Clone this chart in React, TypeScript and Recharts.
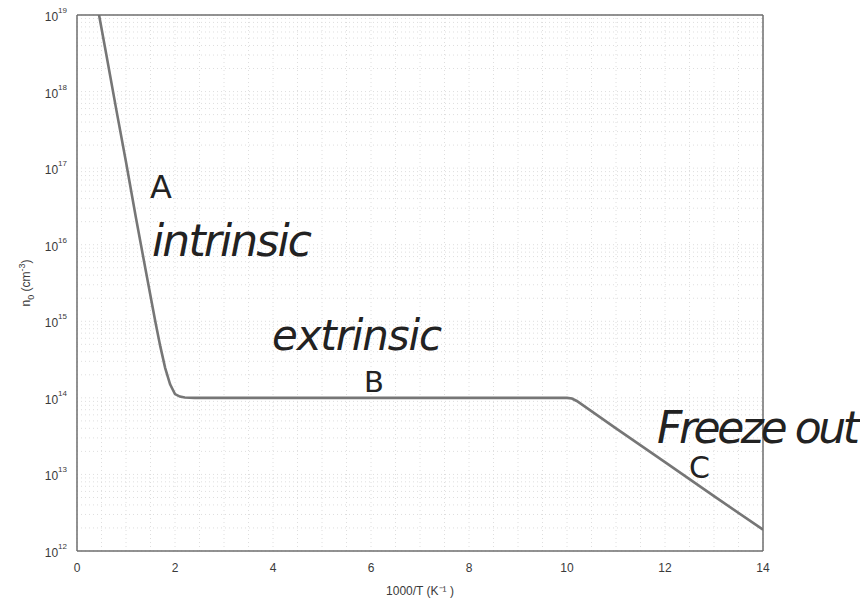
import React from 'react';
import { LineChart, Line, XAxis, YAxis, ReferenceLine } from 'recharts';

// 1000/T values and electron concentration n0 (cm^-3)
const INV_T = [0.45, 0.6, 0.8, 1.0, 1.2, 1.4, 1.6, 1.7, 1.8, 1.9, 2.0, 2.1, 2.2, 2.4, 3, 4, 5, 6, 7, 8, 9, 10, 10.1, 10.2, 11, 12, 13, 14];
const N0 = [1e19, 3e18, 5.9e17, 1.2e17, 2.3e16, 4.7e15, 9.8e14, 4.7e14, 2.45e14, 1.5e14, 1.12e14, 1.04e14, 1.01e14, 1e14, 1e14, 1e14, 1e14, 1e14, 1e14, 1e14, 1e14, 1e14, 9.8e13, 9.1e13, 4e13, 1.45e13, 5.2e12, 1.9e12];

const X_TICKS = [0, 2, 4, 6, 8, 10, 12, 14];
const X_MINOR = [0.5, 1, 1.5, 2.5, 3, 3.5, 4.5, 5, 5.5, 6.5, 7, 7.5, 8.5, 9, 9.5, 10.5, 11, 11.5, 12.5, 13, 13.5];
const Y_TICKS = [1e12, 1e13, 1e14, 1e15, 1e16, 1e17, 1e18, 1e19];
const MANTISSAS = [2, 3, 4, 5, 6, 7, 8, 9];
const Y_MINOR = Y_TICKS.slice(0, -1).flatMap((d) => MANTISSAS.map((m) => m * d));

const data = INV_T.map((x, i) => ({ x, n: N0[i] }));

const AXIS = '#6e6e6e';
const GRID = '#dedede';
const TXT = '#3a3a3a';
const FONT = 'Liberation Sans, Arial, sans-serif';

const PowTick = (props: any) => {
  const { x, y, payload } = props;
  const e = Math.round(Math.log10(payload.value));
  return (
    <text x={x} y={y + 6} textAnchor="end" fill={TXT} fontSize={12} fontFamily={FONT}>
      <tspan>10</tspan>
      <tspan dy={-8} fontSize={8}>{e}</tspan>
    </text>
  );
};

const hand = '"DejaVu Sans", sans-serif';

export default function App() {
  return (
    <div style={{ position: 'absolute', left: 0, top: 0, width: 860, height: 601, background: '#fff' }}>
      <LineChart width={860} height={601} data={data} margin={{ top: 15, right: 97, bottom: 0, left: 17 }}>
        {X_MINOR.concat(X_TICKS).map((v) => (
          <ReferenceLine key={`vx-${v}`} x={v} stroke={GRID} strokeDasharray="1 3" />
        ))}
        {Y_MINOR.concat(Y_TICKS).map((v) => (
          <ReferenceLine key={`hy-${v}`} y={v} stroke={GRID} strokeDasharray="1 3" />
        ))}
        <XAxis
          dataKey="x"
          type="number"
          domain={[0, 14]}
          ticks={X_TICKS}
          allowDataOverflow
          height={50}
          stroke={AXIS}
          strokeWidth={1.5}
          tickLine={false}
          tick={{ fill: TXT, fontSize: 12, fontFamily: FONT }}
          tickMargin={6}
          label={{ value: '1000/T (K\u207B\u00B9 )', position: 'insideBottom', offset: 6, fill: TXT, fontSize: 12, fontFamily: FONT }}
        />
        <XAxis xAxisId="majIn" type="number" domain={[0, 14]} ticks={X_TICKS} mirror orientation="bottom" axisLine={false} tick={false} tickSize={7} stroke={AXIS} />
        <XAxis xAxisId="minIn" type="number" domain={[0, 14]} ticks={X_MINOR} mirror orientation="bottom" axisLine={false} tick={false} tickSize={3} stroke={AXIS} />
        <XAxis xAxisId="top" type="number" domain={[0, 14]} ticks={X_TICKS} mirror orientation="top" tick={false} tickSize={7} stroke={AXIS} strokeWidth={1.5} />
        <YAxis
          scale="log"
          domain={[1e12, 1e19]}
          ticks={Y_TICKS}
          allowDataOverflow
          width={60}
          stroke={AXIS}
          strokeWidth={1.5}
          tickLine={false}
          tick={<PowTick />}
          tickMargin={4}
        />
        <YAxis yAxisId="majIn" scale="log" domain={[1e12, 1e19]} ticks={Y_TICKS} mirror axisLine={false} tick={false} tickSize={7} stroke={AXIS} />
        <YAxis yAxisId="minIn" scale="log" domain={[1e12, 1e19]} ticks={Y_MINOR} mirror axisLine={false} tick={false} tickSize={3} stroke={AXIS} />
        <YAxis yAxisId="right" orientation="right" scale="log" domain={[1e12, 1e19]} ticks={Y_MINOR.concat(Y_TICKS)} mirror tick={false} tickSize={3} stroke={AXIS} strokeWidth={1.5} />
        <Line dataKey="n" type="linear" stroke="#767676" strokeWidth={2.6} dot={false} isAnimationActive={false} />
      </LineChart>
      <svg width={860} height={601} style={{ position: 'absolute', left: 0, top: 0, pointerEvents: 'none' }}>
        <text transform="translate(30,283) rotate(-90)" textAnchor="middle" fill={TXT} fontSize={12} fontFamily={FONT}>
          <tspan>n</tspan>
          <tspan dy={4} fontSize={9}>0</tspan>
          <tspan dy={-4}> (cm</tspan>
          <tspan dy={-5} fontSize={9}>-3</tspan>
          <tspan dy={5}>)</tspan>
        </text>
        <g fill="#222" fontFamily={hand}>
          <text x={150} y={198} fontSize={32}>A</text>
          <text x={152} y={256} fontSize={44} fontStyle="italic" textLength={160}>intrinsic</text>
          <text x={272} y={350} fontSize={42} fontStyle="italic" textLength={170}>extrinsic</text>
          <text x={364} y={392} fontSize={29}>B</text>
          <text x={657} y={443} fontSize={44} fontStyle="italic" textLength={203}>Freeze out</text>
          <text x={689} y={478} fontSize={30}>C</text>
        </g>
      </svg>
    </div>
  );
}
